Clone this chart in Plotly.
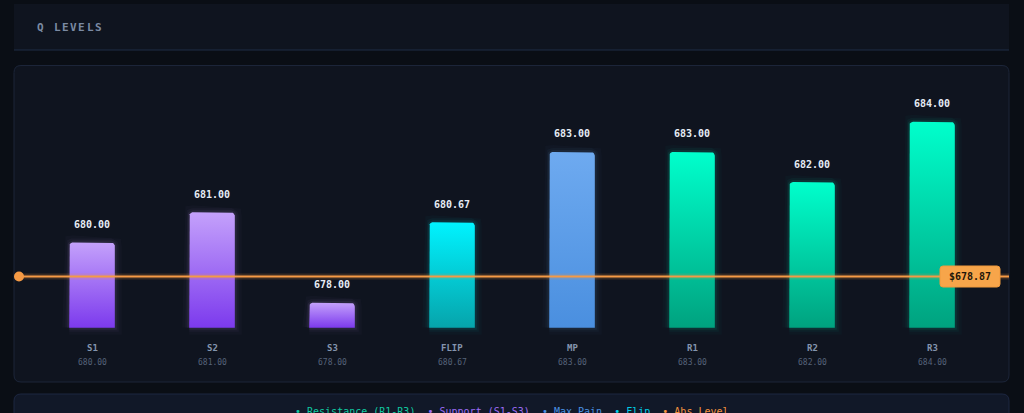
import math
import plotly.graph_objects as go

# level data
levels = ["S1", "S2", "S3", "FLIP", "MP", "R1", "R2", "R3"]
values = [680.00, 681.00, 678.00, 680.67, 683.00, 683.00, 682.00, 684.00]
groups = ["support", "support", "support", "flip", "maxpain", "resistance", "resistance", "resistance"]
abs_level = 678.87
base = 677.17  # bars start a bit under the lowest level
title = "Q LEVELS"

legend_items = [
    ("Resistance (R1-R3)", "#10c9a0"),
    ("Support (S1-S3)", "#9b6cf6"),
    ("Max Pain", "#4a90e2"),
    ("Flip", "#00cfe8"),
    ("Abs Level", "#f5923e"),
]

# gradient colours (bottom, top) per group
palette = {
    "support": ("#7c3aed", "#c4a1fb"),
    "flip": ("#06a4ab", "#00f3ff"),
    "maxpain": ("#4a8fdf", "#6eaaf0"),
    "resistance": ("#00a27f", "#00ffcc"),
}

W, H = 1024, 413
MONO = "DejaVu Sans Mono"
BG = "#0a0e15"
PANEL = "#0f141f"
BORDER = "#1c2539"
PX_PER_UNIT = 30.15
BASE_PX = 327.7


def px(x):
    return x / W


def py(y):
    return 1 - y / H


def hex_rgba(h, a):
    h = h.lstrip("#")
    return f"rgba({int(h[0:2], 16)},{int(h[2:4], 16)},{int(h[4:6], 16)},{a})"


def bar_outline(i, v, hw=0.19, r_px=4):
    # rectangle with rounded top corners, in data units
    rx = r_px / 120
    ry = r_px / PX_PER_UNIT
    xs = [i - hw, i - hw]
    ys = [base, v - ry]
    for a in range(180, 89, -15):
        t = math.radians(a)
        xs.append(i - hw + rx + rx * math.cos(t))
        ys.append(v - ry + ry * math.sin(t))
    for a in range(90, -1, -15):
        t = math.radians(a)
        xs.append(i + hw - rx + rx * math.cos(t))
        ys.append(v - ry + ry * math.sin(t))
    xs += [i + hw, i - hw]
    ys += [base, base]
    return xs, ys


fig = go.Figure()

for i, (lvl, v, g) in enumerate(zip(levels, values, groups)):
    bottom, top = palette[g]
    xs, ys = bar_outline(i, v)
    # soft glow
    for w, a in [(14, 0.025), (8, 0.04), (4, 0.07)]:
        fig.add_trace(go.Scatter(x=xs, y=ys, mode="lines",
                                 line=dict(color=hex_rgba(top, a), width=w),
                                 hoverinfo="skip", showlegend=False))
    fig.add_trace(go.Scatter(x=xs, y=ys, mode="lines", fill="toself",
                             line=dict(color=hex_rgba(top, 0.0), width=0),
                             fillgradient=dict(type="vertical", start=base, stop=v,
                                               colorscale=[[0, bottom], [1, top]]),
                             hoverinfo="skip", showlegend=False))

annotations = []
for i, (lvl, v) in enumerate(zip(levels, values)):
    annotations.append(dict(x=i, y=v, yref="y", text=f"<b>{v:.2f}</b>", showarrow=False,
                            xanchor="center", yanchor="middle", yshift=18,
                            font=dict(family=MONO, size=10, color="#e6edf6")))
    annotations.append(dict(x=i, y=py(347.5), yref="paper", text=f"<b>{lvl}</b>", showarrow=False,
                            xanchor="center", yanchor="middle",
                            font=dict(family=MONO, size=9, color="#8494ae")))
    annotations.append(dict(x=i, y=py(362), yref="paper", text=f"{v:.2f}", showarrow=False,
                            xanchor="center", yanchor="middle",
                            font=dict(family=MONO, size=8, color="#56637a")))

# title, letter-spaced one glyph at a time
for k, ch in enumerate(title):
    if ch == " ":
        continue
    annotations.append(dict(x=px(35 + 8.25 * k), y=py(27), xref="paper", yref="paper",
                            xanchor="left", yanchor="middle",
                            text=f"<b>{ch}</b>", showarrow=False,
                            font=dict(family=MONO, size=11, color="#7b8aa3")))

# abs level tag
annotations.append(dict(x=px(970), y=py(276.5), xref="paper", yref="paper",
                        xanchor="center", yanchor="middle",
                        text=f"<b>${abs_level:.2f}</b>", showarrow=False,
                        font=dict(family=MONO, size=10, color="#1f1609")))

# legend strip
legend_text = "  ".join(f"<span style='color:{c}'>• {t}</span>" for t, c in legend_items)
annotations.append(dict(x=0.5, y=py(411), xref="paper", yref="paper", text=legend_text,
                        xanchor="center", yanchor="middle",
                        showarrow=False, font=dict(family=MONO, size=10)))


def rounded_rect(x0, y0, x1, y1, r):
    X0, X1 = px(x0), px(x1)
    Y0, Y1 = py(y0), py(y1)
    rx, ry = r / W, r / H
    return (f"M{X0+rx},{Y0} L{X1-rx},{Y0} Q{X1},{Y0} {X1},{Y0-ry} "
            f"L{X1},{Y1+ry} Q{X1},{Y1} {X1-rx},{Y1} L{X0+rx},{Y1} "
            f"Q{X0},{Y1} {X0},{Y1+ry} L{X0},{Y0-ry} Q{X0},{Y0} {X0+rx},{Y0} Z")


shapes = [
    # header panel
    dict(type="rect", xref="paper", yref="paper", x0=px(14), x1=px(1009), y0=py(50), y1=py(4),
         fillcolor=PANEL, line=dict(width=0), layer="below"),
    dict(type="line", xref="paper", yref="paper", x0=px(14), x1=px(1009), y0=py(50), y1=py(50),
         line=dict(color="#1f2c47", width=1), layer="below"),
    # chart card
    dict(type="path", xref="paper", yref="paper", path=rounded_rect(14, 65.5, 1009, 382, 7),
         fillcolor=PANEL, line=dict(color=BORDER, width=1), layer="below"),
    # legend panel
    dict(type="path", xref="paper", yref="paper", path=rounded_rect(14, 394, 1009, 430, 7),
         fillcolor="#111828", line=dict(color="#1c2640", width=1), layer="below"),
    # abs level line with glow
    dict(type="line", xref="paper", yref="y", x0=px(19), x1=px(1009), y0=abs_level, y1=abs_level,
         line=dict(color="rgba(245,150,60,0.18)", width=6)),
    dict(type="line", xref="paper", yref="y", x0=px(19), x1=px(1009), y0=abs_level, y1=abs_level,
         line=dict(color="#f59a45", width=2)),
    dict(type="circle", xref="paper", yref="y", xsizemode="pixel", ysizemode="pixel",
         xanchor=px(19), yanchor=abs_level, x0=-5, x1=5, y0=-5, y1=5,
         fillcolor="#f59a45", line=dict(width=0)),
    # abs level tag box
    dict(type="path", xref="paper", yref="paper", path=rounded_rect(940, 266, 1000, 287, 3),
         fillcolor="#f7a54a", line=dict(color="#f0993c", width=1)),
]

# plot area fills the page; 120 px per level slot, ~30 px per price unit
fig.update_layout(
    width=W, height=H,
    margin=dict(l=0, r=0, t=0, b=0),
    paper_bgcolor=BG, plot_bgcolor="rgba(0,0,0,0)",
    xaxis=dict(range=[-92 / 120, (W - 92) / 120], visible=False, fixedrange=True),
    yaxis=dict(range=[base - (H - BASE_PX) / PX_PER_UNIT, base + BASE_PX / PX_PER_UNIT],
               visible=False, fixedrange=True),
    shapes=shapes,
    annotations=annotations,
    showlegend=False,
)

fig.write_html("out.html", config={"displayModeBar": False},
               post_script="document.body.style.margin='0';document.body.style.overflow='hidden';")
